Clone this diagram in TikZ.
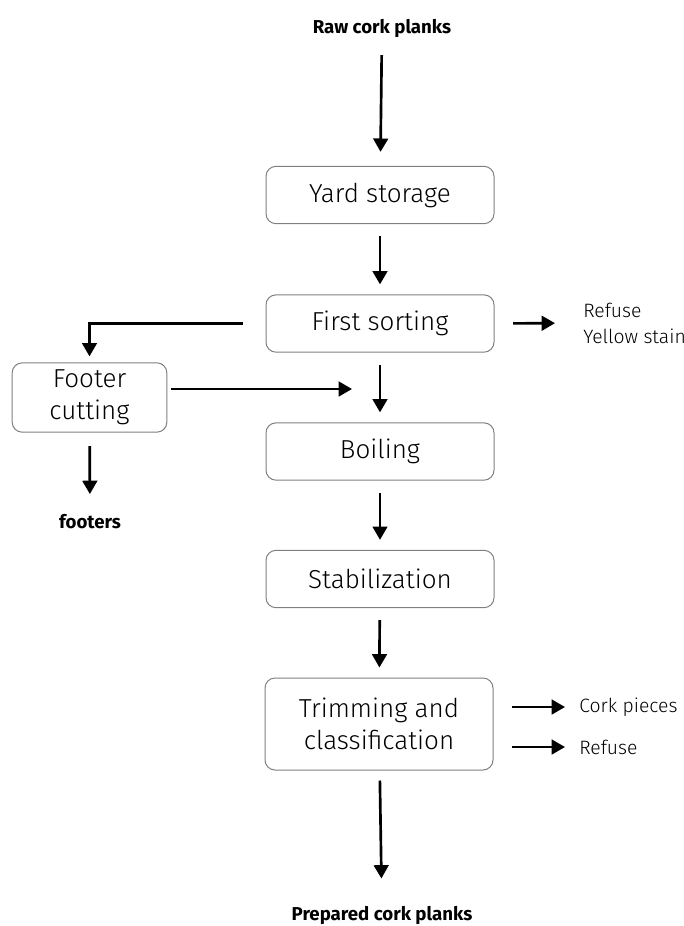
\documentclass[tikz,border=0pt]{standalone}
\usepackage{fontspec}
\setmainfont{Fira Sans}
\newfontfamily\lightfont{Fira Sans Light}
\usetikzlibrary{arrows.meta}
\usetikzlibrary{calc}
\tikzset{
	>={Triangle[length=10pt,width=11pt]},
	stage/.style={draw=black!50, line width=0.75pt, rounded corners=7.5pt,
		minimum width=171pt, minimum height=43pt, align=center,
		font=\lightfont\fontsize{19.5}{24}\selectfont, text=black},
	flow/.style={->, line width=2pt, shorten <=9pt, shorten >=7.5pt},
	side/.style={->, line width=2pt, shorten <=14pt},
	endlabel/.style={font=\bfseries\fontsize{14}{16}\selectfont},
	outlabel/.style={font=\lightfont\fontsize{14.5}{19.5}\selectfont, text=black,
		align=left, anchor=west, inner sep=0pt},
}

\begin{document}
\begin{tikzpicture}[x=0.75pt, y=-0.75pt]
	\useasboundingbox (0,0) rectangle (684,926);
	
	% Main line
	\node[endlabel] (raw) at (382,28) {Raw cork planks};
	\node[stage] (yard) at (380,195) {Yard storage};
	\node[stage] (first) at (380,323.5) {First sorting};
	\node[stage] (boil) at (380,451.5) {Boiling};
	\node[stage] (stab) at (380,579) {Stabilization};
	\node[stage, minimum height=69pt] (trim) at (379,724) {Trimming and\\classification};
	\node[endlabel] (prep) at (382,915) {Prepared cork planks};
	
	% Side branch
	\node[stage, minimum width=116pt, minimum height=52pt] (footer) at (89.5,397.5) {Footer\\cutting};
	\node[endlabel] (footers) at (90,522) {footers};
	\coordinate (merge) at (352,389);
	
	% Outputs
	\node[outlabel] (rej1) at (583,323) {Refuse\\Yellow stain};
	\node[outlabel] (cork) at (579,707) {Cork pieces};
	\node[outlabel] (rej2) at (579,747) {Refuse};
	
	% Arrows down the line
	\draw[flow, shorten <=10pt, shorten >=10.5pt] (raw) -- (yard);
	\draw[flow] (yard) -- (first);
	\draw[flow] (first) -- (boil);
	\draw[flow] (boil) -- (stab);
	\draw[flow] (stab) -- (trim);
	\draw[flow, shorten <=7.5pt, shorten >=17pt] (trim) -- (prep);
	
	% Footer branch
	\draw[flow, shorten <=17pt, shorten >=4.5pt] (first.west) -| (footer.north);
	\draw[flow, shorten <=3pt, shorten >=0pt] (footer.east |- merge) -- (merge);
	\draw[flow, shorten <=10pt, shorten >=12pt] (footer) -- (footers);
	
	% Rejects
	\draw[side, shorten >=21pt] (first.east) -- (rej1.west);
	\draw[side, shorten >=10.5pt] (trim.east |- cork.west) -- (cork.west);
	\draw[side, shorten >=10.5pt] (trim.east |- rej2.west) -- (rej2.west);
	
\end{tikzpicture}
\end{document}
